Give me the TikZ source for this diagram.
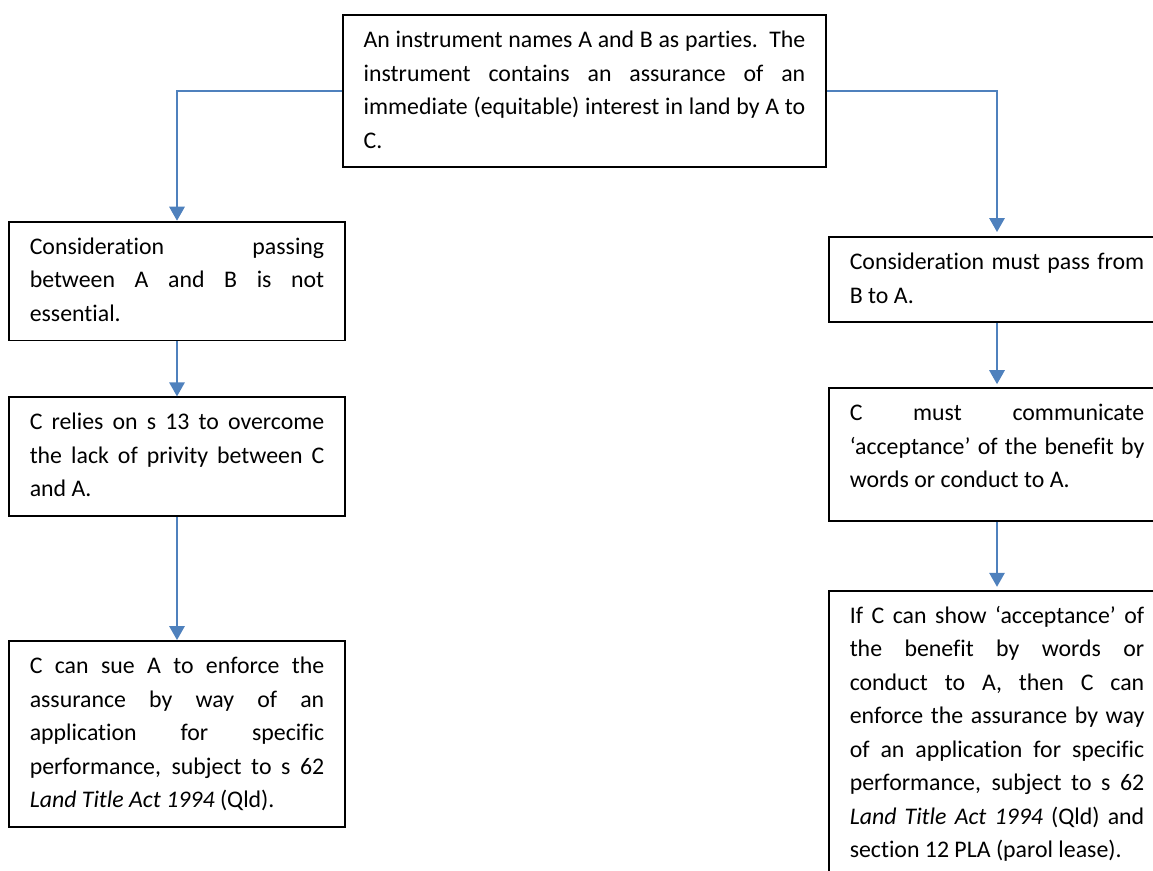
\documentclass[tikz,border=0pt]{standalone}
\usepackage{fontspec}
\setmainfont{Carlito}[Ligatures={TeX,NoCommon}]
\usepackage{tikz}
\usetikzlibrary{arrows.meta,positioning}
\definecolor{flowblue}{RGB}{79,129,189}
\tikzstyle{stage} = [rectangle, draw, line width=1.1pt, text width=176.7pt, align=justify, inner xsep=12.45pt, inner ysep=5.5pt, anchor=north, font=\fontsize{14.3}{20.1}\selectfont, execute at begin node=\strut, execute at end node=\strut]
\tikzstyle{flow} = [->, draw=flowblue, line width=0.9pt]

\begin{document}
\begin{tikzpicture}[x=0.6pt, y=-0.6pt, >={Triangle[length=8.4pt, width=9.3pt]}]
    \useasboundingbox (0,0) rectangle (1153,870);
    \node[stage, text width=265pt] (instr) at (584.5,14) {An instrument names A and B as parties.\ \ The\linebreak instrument contains an assurance of an\linebreak immediate (equitable) interest in land by A to\linebreak C.};
    \node[stage] (noconsid) at (177,220.7) {Consideration passing\linebreak between A and B is not\linebreak essential.};
    \node[stage, below=33pt of noconsid] (privity) {C relies on s 13 to overcome\linebreak the lack of privity between C\linebreak and A.};
    \node[stage, below=73.8pt of privity] (sue) {C can sue A to enforce the\linebreak assurance by way of an\linebreak application for specific\linebreak performance, subject to s 62\linebreak \textit{Land Title Act 1994} (Qld).};
    \node[stage] (consid) at (997,236) {Consideration must pass from\linebreak B to A.};
    \node[stage, below=38.4pt of consid] (accept) {C must communicate\linebreak `acceptance' of the benefit by\linebreak words or conduct to A.\rule[-14.4pt]{0pt}{0pt}};
    \node[stage, below=40.8pt of accept] (enforce) {If C can show `acceptance' of\linebreak the benefit by words or\linebreak conduct to A, then C can\linebreak enforce the assurance by way\linebreak of an application for specific\linebreak performance, subject to s 62\linebreak \textit{Land Title Act 1994} (Qld) and\linebreak section 12 PLA (parol lease).};

    \draw[flow] (instr.west) -| (noconsid.north);
    \draw[flow, shorten >=2.4pt] (instr.east) -| (consid.north);
    \draw[flow] (noconsid) -- (privity);
    \draw[flow] (privity) -- (sue);
    \draw[flow, shorten >=1.8pt] (consid) -- (accept);
    \draw[flow, shorten >=1.8pt] (accept) -- (enforce);
\end{tikzpicture}
\end{document}
